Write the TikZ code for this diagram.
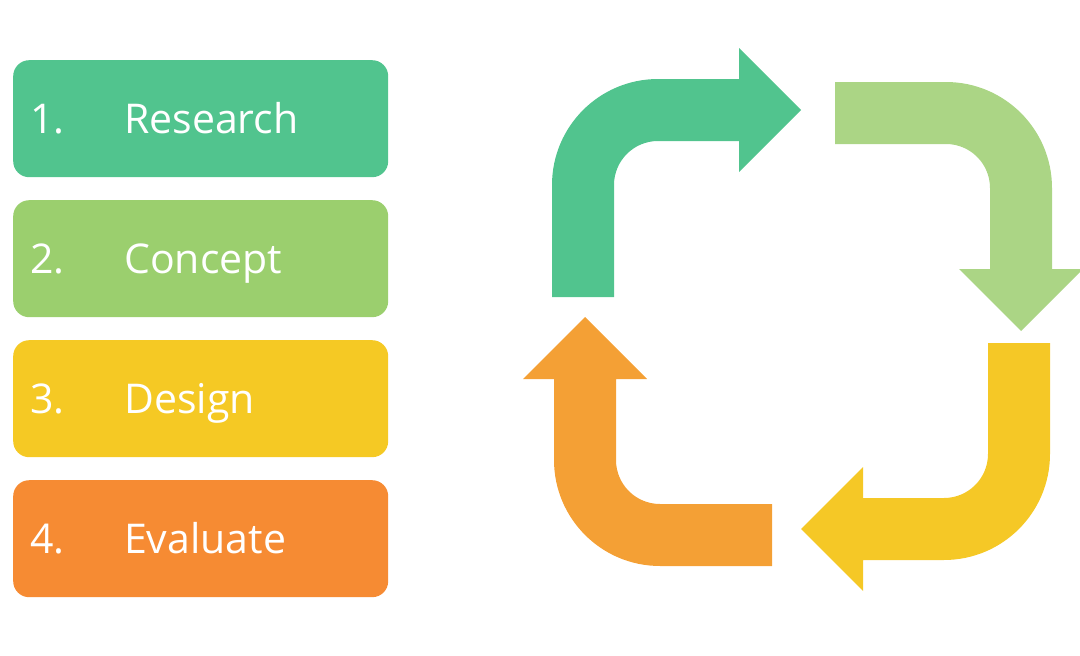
\documentclass[tikz,border=0pt]{standalone}
\usepackage{fontspec}
\setmainfont{Open Sans}
\usepackage{tikz}
\usepackage{color}
\definecolor{boxgreen}{RGB}{81,196,142}
\definecolor{boxlime}{RGB}{155,207,110}
\definecolor{boxyellow}{RGB}{245,201,36}
\definecolor{boxorange}{RGB}{246,139,51}
\definecolor{arrgreen}{RGB}{81,196,142}
\definecolor{arrlime}{RGB}{171,213,133}
\definecolor{arryellow}{RGB}{245,200,38}
\definecolor{arrorange}{RGB}{244,160,53}
\begin{document}
\begin{tikzpicture}[x=1pt,y=1pt]
\tikzstyle{every node}+=[inner sep=0pt]
\tikzstyle{stepbox}=[rounded corners=16pt, minimum width=375pt, minimum height=117pt, anchor=north west]
\tikzstyle{steptext}=[anchor=base west, text=white, font=\fontsize{41}{49}\selectfont]
\useasboundingbox (0,0) rectangle (1080,-656);
% list of steps
\node [stepbox, fill=boxgreen] (research) at (13,-60) {};
\node [steptext] (num1) at (30,-133.5) {1.};
\node [steptext] (txt1) at (124,-133.5) {Research};
\node [stepbox, fill=boxlime] (concept) at (13,-200) {};
\node [steptext] (num2) at (30,-273.5) {2.};
\node [steptext] (txt2) at (124,-273.5) {Concept};
\node [stepbox, fill=boxyellow] (design) at (13,-340) {};
\node [steptext] (num3) at (30,-413.5) {3.};
\node [steptext] (txt3) at (124,-413.5) {Design};
\node [stepbox, fill=boxorange] (evaluate) at (13,-480) {};
\node [steptext] (num4) at (30,-553.5) {4.};
\node [steptext] (txt4) at (124,-553.5) {Evaluate};
% cycle arrows
\fill [arrgreen] (552,-297) -- (552,-185) arc[start angle=180, end angle=90, radius=106]
  -- (739,-79) -- (739,-48) -- (801,-110) -- (739,-172) -- (739,-141)
  -- (658,-141) arc[start angle=90, end angle=180, radius=44] -- (614,-297) -- cycle;
\fill [arrlime] (835,-82) -- (946,-82) arc[start angle=90, end angle=0, radius=106]
  -- (1052,-269) -- (1083,-269) -- (1021,-331) -- (959,-269) -- (990,-269)
  -- (990,-188) arc[start angle=0, end angle=90, radius=44] -- (835,-144) -- cycle;
\fill [arryellow] (1050,-343) -- (1050,-454) arc[start angle=0, end angle=-90, radius=106]
  -- (863,-560) -- (863,-591) -- (801,-529) -- (863,-467) -- (863,-498)
  -- (944,-498) arc[start angle=-90, end angle=0, radius=44] -- (988,-343) -- cycle;
\fill [arrorange] (772,-566) -- (660,-566) arc[start angle=-90, end angle=-180, radius=106]
  -- (554,-379) -- (523,-379) -- (585,-317) -- (647,-379) -- (616,-379)
  -- (616,-460) arc[start angle=180, end angle=270, radius=44] -- (772,-504) -- cycle;
\end{tikzpicture}
\end{document}
